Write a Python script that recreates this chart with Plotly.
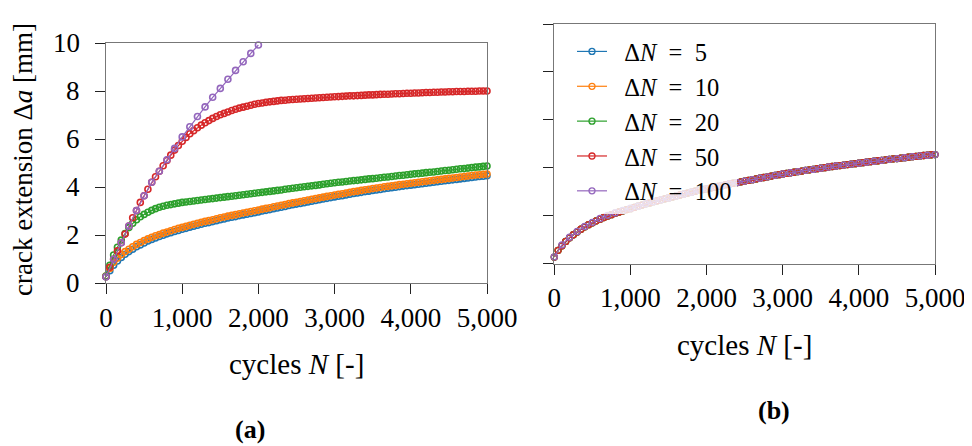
import plotly.graph_objects as go

# ---------------- data ----------------
cycles_50 = list(range(0, 5001, 50))
cycles_100_left = list(range(0, 2001, 100))
cycles_100 = list(range(0, 5001, 100))

series_names = ["\u2002Δ<i>N</i>\u2002=\u20025", "\u2002Δ<i>N</i>\u2002=\u200210", "\u2002Δ<i>N</i>\u2002=\u200220",
                "\u2002Δ<i>N</i>\u2002=\u200250", "\u2002Δ<i>N</i>\u2002=\u2002100"]
colors = ["#1f77b4", "#ff7f0e", "#2ca02c", "#d62728", "#9467bd"]

x_ticks = [0, 1000, 2000, 3000, 4000, 5000]
y_ticks = [0, 2, 4, 6, 8, 10]
y_tick_labels = ["0", "2", "4", "6", "8", "10"]

# (a) left panel, sampled every 50 cycles
left_dn5 = [0.27, 0.52, 0.75, 0.93, 1.08, 1.21, 1.32, 1.42, 1.52, 1.60, 1.68, 1.76, 1.83, 1.89, 1.95, 2.00,
            2.06, 2.11, 2.16, 2.20, 2.25, 2.29, 2.34, 2.38, 2.42, 2.46, 2.50, 2.53, 2.57, 2.61, 2.65, 2.68,
            2.72, 2.75, 2.78, 2.82, 2.85, 2.88, 2.91, 2.94, 2.97, 3.01, 3.04, 3.07, 3.11, 3.14, 3.17, 3.20,
            3.24, 3.27, 3.30, 3.33, 3.36, 3.39, 3.42, 3.45, 3.48, 3.51, 3.54, 3.57, 3.60, 3.63, 3.65, 3.68,
            3.71, 3.74, 3.76, 3.79, 3.82, 3.84, 3.87, 3.89, 3.91, 3.94, 3.96, 3.98, 4.00, 4.03, 4.05, 4.07,
            4.09, 4.11, 4.13, 4.15, 4.17, 4.19, 4.21, 4.23, 4.25, 4.27, 4.29, 4.31, 4.33, 4.35, 4.37, 4.39,
            4.41, 4.43, 4.45, 4.46, 4.48]
left_dn10 = [0.30, 0.62, 0.88, 1.05, 1.20, 1.32, 1.42, 1.52, 1.62, 1.70, 1.78, 1.85, 1.92, 1.98, 2.03, 2.09,
             2.14, 2.19, 2.24, 2.29, 2.33, 2.37, 2.42, 2.46, 2.50, 2.54, 2.58, 2.61, 2.65, 2.69, 2.73, 2.76,
             2.80, 2.83, 2.86, 2.90, 2.93, 2.96, 2.99, 3.02, 3.05, 3.09, 3.12, 3.15, 3.19, 3.22, 3.25, 3.28,
             3.32, 3.35, 3.38, 3.41, 3.44, 3.47, 3.50, 3.53, 3.56, 3.59, 3.62, 3.65, 3.68, 3.71, 3.73, 3.76,
             3.79, 3.82, 3.84, 3.87, 3.90, 3.92, 3.95, 3.97, 3.99, 4.02, 4.04, 4.06, 4.08, 4.11, 4.13, 4.15,
             4.17, 4.19, 4.21, 4.23, 4.25, 4.27, 4.29, 4.31, 4.33, 4.35, 4.37, 4.39, 4.41, 4.43, 4.45, 4.47,
             4.49, 4.51, 4.52, 4.54, 4.55]
left_dn20 = [0.30, 0.75, 1.18, 1.50, 1.80, 2.07, 2.32, 2.50, 2.65, 2.77, 2.87, 2.96, 3.04, 3.11, 3.17, 3.21,
             3.25, 3.28, 3.31, 3.34, 3.37, 3.39, 3.41, 3.43, 3.45, 3.47, 3.49, 3.51, 3.53, 3.55, 3.57, 3.59,
             3.61, 3.63, 3.65, 3.67, 3.69, 3.71, 3.73, 3.75, 3.77, 3.79, 3.81, 3.83, 3.85, 3.87, 3.89, 3.92,
             3.94, 3.96, 3.98, 4.00, 4.02, 4.04, 4.06, 4.08, 4.10, 4.13, 4.15, 4.17, 4.19, 4.21, 4.22, 4.24,
             4.26, 4.28, 4.29, 4.31, 4.33, 4.35, 4.36, 4.38, 4.40, 4.42, 4.43, 4.45, 4.47, 4.49, 4.50, 4.52,
             4.54, 4.56, 4.57, 4.59, 4.61, 4.63, 4.64, 4.66, 4.68, 4.70, 4.71, 4.73, 4.75, 4.77, 4.78, 4.80,
             4.82, 4.84, 4.85, 4.87, 4.89]
left_dn50 = [0.27, 0.67, 1.00, 1.35, 1.69, 2.05, 2.39, 2.73, 3.03, 3.37, 3.65, 3.92, 4.21, 4.44, 4.67, 4.90,
             5.12, 5.34, 5.55, 5.74, 5.92, 6.08, 6.23, 6.36, 6.48, 6.59, 6.69, 6.78, 6.87, 6.95, 7.02, 7.08,
             7.14, 7.20, 7.25, 7.30, 7.34, 7.38, 7.42, 7.46, 7.49, 7.51, 7.54, 7.56, 7.58, 7.60, 7.62, 7.63,
             7.65, 7.66, 7.67, 7.68, 7.69, 7.70, 7.71, 7.72, 7.73, 7.74, 7.75, 7.76, 7.77, 7.78, 7.79, 7.80,
             7.81, 7.81, 7.82, 7.83, 7.84, 7.85, 7.85, 7.86, 7.87, 7.88, 7.88, 7.89, 7.90, 7.90, 7.91, 7.92,
             7.92, 7.93, 7.93, 7.94, 7.95, 7.95, 7.96, 7.96, 7.97, 7.97, 7.98, 7.98, 7.99, 7.99, 7.99, 8.00,
             8.00, 8.00, 8.01, 8.01, 8.01]
# sampled every 100 cycles (beyond 2000 it leaves the plotted range)
left_dn100 = [0.27, 1.00, 1.69, 2.39, 3.03, 3.65, 4.21, 4.67, 5.15, 5.62, 6.10, 6.52, 6.95, 7.35, 7.75,
              8.12, 8.50, 8.87, 9.23, 9.58, 9.93]

# (b) right panel: all step sizes collapse onto one curve
right_dn5_to_50 = [0.27, 0.55, 0.74, 0.92, 1.07, 1.20, 1.32, 1.43, 1.53, 1.62, 1.70, 1.78, 1.85, 1.92, 1.98,
                   2.04, 2.10, 2.15, 2.20, 2.25, 2.29, 2.34, 2.39, 2.44, 2.49, 2.53, 2.58, 2.62, 2.66, 2.70,
                   2.74, 2.78, 2.82, 2.86, 2.90, 2.94, 2.98, 3.02, 3.05, 3.09, 3.12, 3.15, 3.19, 3.22, 3.25,
                   3.29, 3.32, 3.35, 3.38, 3.41, 3.44, 3.47, 3.50, 3.53, 3.56, 3.59, 3.62, 3.65, 3.68, 3.71,
                   3.74, 3.76, 3.79, 3.81, 3.84, 3.86, 3.89, 3.91, 3.93, 3.96, 3.98, 4.00, 4.03, 4.05, 4.07,
                   4.09, 4.11, 4.13, 4.15, 4.17, 4.19, 4.21, 4.23, 4.25, 4.27, 4.29, 4.31, 4.33, 4.35, 4.37,
                   4.38, 4.40, 4.42, 4.44, 4.46, 4.47, 4.49, 4.51, 4.52, 4.54, 4.55]
right_dn100 = [0.28, 0.78, 1.10, 1.34, 1.55, 1.72, 1.88, 2.01, 2.12, 2.22, 2.31, 2.39, 2.49, 2.58, 2.66,
               2.74, 2.82, 2.90, 2.98, 3.05, 3.12, 3.19, 3.25, 3.32, 3.38, 3.44, 3.50, 3.56, 3.62, 3.68,
               3.74, 3.79, 3.84, 3.89, 3.93, 3.98, 4.03, 4.07, 4.11, 4.15, 4.19, 4.23, 4.27, 4.31, 4.35,
               4.38, 4.42, 4.46, 4.49, 4.52, 4.55]

left_series = [(cycles_50, left_dn5), (cycles_50, left_dn10), (cycles_50, left_dn20),
               (cycles_50, left_dn50), (cycles_100_left, left_dn100)]
right_series = [(cycles_50, right_dn5_to_50), (cycles_50, right_dn5_to_50), (cycles_50, right_dn5_to_50),
                (cycles_50, right_dn5_to_50), (cycles_100, right_dn100)]

# ---------------- figure ----------------
FONT = "Liberation Serif"
W, H = 972, 446
OFF = 8  # page body margin of the exported html

fig = go.Figure()
for i, (xs, ys) in enumerate(left_series):
    fig.add_trace(go.Scatter(
        x=xs, y=ys, mode="lines+markers", xaxis="x", yaxis="y", showlegend=False,
        line=dict(color=colors[i], width=1.2),
        marker=dict(symbol="circle-open", size=6, color=colors[i], line=dict(width=1.6)),
        cliponaxis=False, name=series_names[i]))
for i, (xs, ys) in enumerate(right_series):
    fig.add_trace(go.Scatter(
        x=xs, y=ys, mode="lines+markers", xaxis="x2", yaxis="y2", showlegend=True,
        line=dict(color=colors[i], width=1.2),
        marker=dict(symbol="circle-open", size=6, color=colors[i], line=dict(width=1.3)),
        cliponaxis=False, name=series_names[i]))

def px_x(p):
    return (p - OFF) / W

def px_y(p):
    return 1 - (p - OFF) / H

TICK_SIZE = 27
axis_common = dict(
    showgrid=False, zeroline=False, showline=True, linecolor="#777777", linewidth=1.3,
    mirror=True, ticks="outside", ticklen=10, tickcolor="#222222", tickwidth=1.2,
    tickfont=dict(family=FONT, size=TICK_SIZE, color="black"), automargin=False,
)

fig.update_layout(
    width=W, height=H,
    margin=dict(l=0, r=0, t=0, b=0, autoexpand=False),
    paper_bgcolor="white", plot_bgcolor="white",
    separators=".,",
    xaxis=dict(domain=[px_x(106), px_x(487)], range=[0, 5000], tickvals=x_ticks,
               tickformat=",d", anchor="y", **axis_common),
    yaxis=dict(domain=[px_y(283.3), px_y(43.3)], range=[0, 10], tickvals=y_ticks,
               showticklabels=False, anchor="x", **axis_common),
    xaxis2=dict(domain=[px_x(554.3), px_x(935)], range=[0, 5000], tickvals=x_ticks,
                tickformat=",d", anchor="y2", **axis_common),
    yaxis2=dict(domain=[px_y(263.5), px_y(24)], range=[0, 10], tickvals=y_ticks,
                showticklabels=False, anchor="x2", **axis_common),
    legend=dict(x=px_x(572), y=px_y(29), xanchor="left", yanchor="top",
                bgcolor="rgba(255,255,255,0.8)", borderwidth=0,
                font=dict(family=FONT, size=24.5, color="black"),
                tracegroupgap=0),
)

# left y tick labels, placed on the y scale with a wider gap than the default
for v, lab in zip(y_ticks, y_tick_labels):
    fig.add_annotation(text=lab, x=px_x(82), y=v, xref="paper", yref="y", showarrow=False,
                       xanchor="right", yanchor="middle",
                       font=dict(family=FONT, size=TICK_SIZE, color="black"))

fig.add_annotation(text="crack extension Δ<i>a</i> [mm]", x=px_x(23), y=px_y(160), xref="paper", yref="paper",
                   textangle=-90, showarrow=False, font=dict(family=FONT, size=27, color="black"),
                   xanchor="center", yanchor="middle")
title_font = dict(family=FONT, size=29, color="black")
fig.add_annotation(text="cycles <i>N</i> [-]", x=px_x(296), y=px_y(364), xref="paper", yref="paper",
                   showarrow=False, font=title_font, xanchor="center", yanchor="middle")
fig.add_annotation(text="cycles <i>N</i> [-]", x=px_x(744), y=px_y(345), xref="paper", yref="paper",
                   showarrow=False, font=title_font, xanchor="center", yanchor="middle")
cap_font = dict(family=FONT, size=26, color="black")
fig.add_annotation(text="<b>(a)</b>", x=px_x(250), y=px_y(429), xref="paper", yref="paper",
                   showarrow=False, font=cap_font, xanchor="center", yanchor="middle")
fig.add_annotation(text="<b>(b)</b>", x=px_x(774), y=px_y(410), xref="paper", yref="paper",
                   showarrow=False, font=cap_font, xanchor="center", yanchor="middle")

fig.write_html("out.html")
